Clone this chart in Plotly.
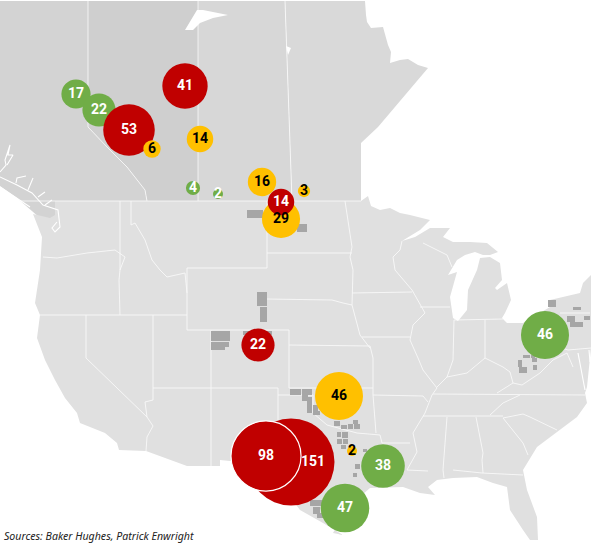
import math
import plotly.graph_objects as go

# bubbles, listed in drawing order
rig_values = [17, 22, 53, 6, 41, 14, 4, 2, 16, 29, 14, 3, 22, 46, 151, 98, 2, 38, 47, 46]
rig_status = ["green", "green", "red", "yellow", "red", "yellow", "green", "green", "yellow", "yellow",
              "red", "yellow", "red", "yellow", "red", "red", "yellow", "green", "green", "green"]
rig_x = [76, 99, 129, 152, 185, 200, 193, 218, 262, 281, 281, 304, 258, 339, 291, 266, 352, 383, 345, 545]
rig_y = [94, 110, 130, 149, 86, 139, 188, 194, 182, 219, 202, 191, 345, 396, 462, 456, 451, 466, 508, 335]
label_shift = [0, 0, 0, 0, 0, 0, 0, 0, 0, 0, 0, 0, 0, 0, 22, 0, 0, 0, 0, 0]

colors = {"green": "#70ad47", "red": "#c00000", "yellow": "#ffc000"}
text_colors = {"green": "white", "red": "white", "yellow": "black"}

# basemap outlines
bc = [(0, 1), (88, 1), (88, 127), (107, 147), (127, 167), (145, 190), (147, 201), (55, 201), (55, 220), (40, 218),
      (33, 212), (17, 198), (0, 186)]
alberta = [(88, 1), (198, 1), (198, 201), (147, 201), (145, 190), (127, 167), (107, 147), (88, 127)]
sask = [(198, 1), (285, 1), (292, 201), (198, 201)]
manitoba = [(285, 1), (365, 1), (366, 15), (367, 22), (371, 28), (383, 27), (388, 45), (391, 52), (390, 63), (400, 60),
            (408, 59), (418, 65), (428, 68), (378, 127), (361, 143), (361, 201), (292, 201)]
usa = [(55, 201), (361, 201), (368, 196), (371, 206), (380, 210), (390, 208), (400, 213), (410, 215), (430, 220),
       (420, 230), (402, 241), (415, 237), (430, 228), (450, 228), (443, 237), (453, 242), (470, 242), (487, 243),
       (498, 252), (490, 255), (483, 255), (475, 252), (465, 255), (457, 260), (448, 275), (457, 272), (450, 297),
       (453, 318), (458, 321), (467, 310), (468, 290), (477, 270), (480, 258), (490, 257), (500, 263), (502, 280),
       (495, 288), (497, 290), (507, 283), (511, 300), (505, 313), (502, 318), (507, 323), (523, 323), (550, 307),
       (550, 300), (580, 293), (583, 283), (591, 275), (591, 348), (587, 387), (585, 393), (587, 403), (577, 417),
       (557, 432), (537, 447), (523, 470), (527, 490), (537, 517), (538, 540), (530, 540), (523, 530), (510, 510),
       (507, 487), (493, 483), (477, 477), (453, 478), (437, 480), (428, 487), (435, 495), (420, 493), (403, 487),
       (370, 488), (345, 510), (333, 533), (343, 535), (323, 523), (300, 510), (270, 470), (240, 462), (220, 460),
       (220, 466), (187, 466), (146, 451), (119, 450), (117, 443), (105, 433), (80, 423), (77, 413), (65, 398),
       (55, 380), (45, 360), (37, 338), (40, 315), (35, 303), (40, 270), (42, 237), (33, 214), (50, 218), (55, 215)]
lakes = [[(185, 30), (197, 10), (203, 10), (228, 15), (213, 18), (200, 23), (193, 30)],
         [(286, 46), (291, 48), (288, 55)]]

borders = [
    [(0, 201), (361, 201)],
    [(120, 201), (120, 270), (119, 280), (120, 315)],
    [(131, 201), (131, 225), (135, 223), (145, 240), (152, 260), (160, 270), (167, 277), (185, 273), (187, 293)],
    [(43, 257), (57, 258), (87, 253), (115, 250), (125, 257), (120, 270)],
    [(40, 315), (187, 315)],
    [(86, 315), (86, 358), (147, 417), (153, 426), (147, 437), (146, 451)],
    [(153, 315), (153, 400), (145, 402), (147, 417)],
    [(153, 388), (278, 388)],
    [(187, 268), (267, 268), (267, 201)],
    [(187, 268), (187, 330), (289, 330), (289, 388)],
    [(211, 330), (211, 466)],
    [(278, 388), (278, 450)],
    [(278, 395), (313, 395), (313, 413), (327, 425), (357, 433), (380, 435), (382, 443), (410, 443)],
    [(289, 345), (370, 346), (373, 358), (373, 395), (376, 433)],
    [(289, 388), (373, 388)],
    [(267, 299), (332, 300), (343, 303), (352, 305), (360, 335), (370, 348)],
    [(267, 253), (352, 253)],
    [(345, 201), (348, 220), (352, 247), (350, 257), (353, 270), (352, 305)],
    [(352, 293), (412, 292)],
    [(402, 241), (400, 250), (393, 257), (395, 270), (412, 290), (425, 313), (413, 325), (410, 340), (418, 358),
     (423, 370), (433, 383), (437, 388), (432, 395), (425, 413), (413, 433), (417, 452), (407, 470)],
    [(423, 243), (447, 255), (452, 267)],
    [(362, 337), (410, 337)],
    [(420, 307), (450, 307)],
    [(454, 320), (453, 360), (447, 377), (437, 387)],
    [(447, 377), (467, 373), (485, 358), (503, 367), (510, 372), (513, 383), (522, 385), (540, 373), (553, 360),
     (567, 353), (573, 367)],
    [(485, 320), (485, 358)],
    [(454, 320), (503, 319)],
    [(497, 393), (513, 383)],
    [(373, 395), (423, 396), (428, 402)],
    [(433, 394), (585, 395)],
    [(423, 416), (503, 416)],
    [(490, 415), (503, 403), (520, 395)],
    [(447, 417), (443, 470), (444, 478)],
    [(476, 417), (483, 453), (482, 460), (483, 473)],
    [(407, 470), (428, 471)],
    [(453, 470), (482, 473), (523, 475)],
    [(503, 418), (523, 443), (528, 455)],
    [(503, 418), (523, 414), (530, 417), (557, 430)],
    [(568, 350), (591, 348)],
    [(553, 317), (553, 345), (568, 350)],
    [(560, 313), (590, 313)],
    [(198, 1), (198, 201)],
    [(88, 1), (88, 127), (107, 147), (127, 167), (145, 190), (147, 201)],
    [(285, 1), (292, 201)],
]

# straits and inlets on the coasts
channels = [
    [(0, 177), (17, 185), (32, 193), (43, 205), (58, 210), (60, 227), (55, 232), (52, 228), (57, 222)],
    [(0, 172), (6, 165), (5, 160), (10, 145), (8, 155), (13, 155), (7, 165)],
    [(16, 183), (17, 178), (26, 176)],
    [(28, 190), (33, 178)],
    [(38, 197), (45, 192)],
    [(45, 205), (52, 200)],
    [(0, 187), (8, 192), (18, 199), (30, 207)],
    [(578, 353), (581, 368), (585, 390)],
    [(589, 350), (590, 362)],
]

# producing counties, x0, y0, x1, y1
counties = [(247, 210, 263, 218), (297, 224, 307, 232), (257, 292, 267, 306), (260, 307, 267, 322),
            (211, 331, 230, 341), (211, 342, 229, 347), (211, 347, 225, 350), (243, 331, 272, 335),
            (290, 389, 301, 395), (302, 389, 312, 395), (302, 395, 308, 401), (307, 397, 312, 403),
            (307, 403, 312, 408), (307, 408, 312, 413), (313, 405, 318, 411), (313, 411, 320, 415),
            (334, 421, 340, 426), (341, 425, 347, 429), (348, 424, 353, 429), (353, 420, 358, 424),
            (354, 424, 360, 429), (337, 432, 341, 437), (342, 432, 348, 438), (337, 439, 342, 444),
            (343, 439, 348, 444), (341, 445, 346, 449), (355, 464, 360, 469), (353, 473, 357, 477),
            (363, 449, 367, 452), (310, 500, 322, 506), (313, 507, 320, 514), (317, 513, 323, 518),
            (548, 300, 556, 307), (573, 307, 581, 310), (567, 316, 575, 322), (584, 316, 590, 320),
            (570, 322, 583, 327), (523, 355, 530, 358), (531, 355, 535, 358), (532, 358, 537, 362),
            (533, 365, 537, 370), (518, 360, 522, 367), (519, 367, 527, 373)]


def polygon(points, color):
    return go.Scatter(x=[p[0] for p in points], y=[p[1] for p in points], mode="lines", fill="toself",
                      fillcolor=color, line=dict(width=0), hoverinfo="skip")


def join_lines(lines):
    xs, ys = [], []
    for line in lines:
        xs += [p[0] for p in line] + [None]
        ys += [p[1] for p in line] + [None]
    return xs, ys


fig = go.Figure()
fig.add_trace(polygon(bc, "#d3d3d3"))
fig.add_trace(polygon(alberta, "#cfcfcf"))
fig.add_trace(polygon(sask, "#d7d7d7"))
fig.add_trace(polygon(manitoba, "#d9d9d9"))
fig.add_trace(polygon(usa, "#e0e0e0"))
for lake in lakes:
    fig.add_trace(polygon(lake, "white"))

bx, by = join_lines(borders)
fig.add_trace(go.Scatter(x=bx, y=by, mode="lines", line=dict(color="white", width=0.9), opacity=0.8, hoverinfo="skip"))
chx, chy = join_lines(channels)
fig.add_trace(go.Scatter(x=chx, y=chy, mode="lines", line=dict(color="white", width=1.1), hoverinfo="skip"))

rects = [[(c[0], c[1]), (c[2], c[1]), (c[2], c[3]), (c[0], c[3]), (c[0], c[1])] for c in counties]
cx, cy = join_lines(rects)
fig.add_trace(go.Scatter(x=cx, y=cy, mode="lines", fill="toself", fillcolor="#a6a6a6", line=dict(width=0),
                         hoverinfo="skip"))

fig.add_trace(go.Scatter(
    x=rig_x, y=rig_y, mode="markers",
    marker=dict(size=[math.sqrt(v) * 7.08 for v in rig_values], sizemode="diameter", opacity=1,
                color=[colors[s] for s in rig_status],
                line=dict(color="white", width=[1.2 if v == 98 else 0 for v in rig_values])),
    hoverinfo="skip"))
fig.add_trace(go.Scatter(
    x=[x + d for x, d in zip(rig_x, label_shift)], y=rig_y, mode="text", text=[str(v) for v in rig_values],
    textposition="middle center",
    textfont=dict(family="Roboto", size=14, weight="bold", color=[text_colors[s] for s in rig_status]),
    hoverinfo="skip"))

fig.add_annotation(text="<i>Sources: Baker Hughes, Patrick Enwright</i>", x=2, y=536, xref="x", yref="y",
                   xanchor="left", yanchor="middle", showarrow=False,
                   font=dict(family="Noto Sans", size=10.6, color="#222222"))

fig.update_xaxes(range=[0, 591], visible=False, fixedrange=True)
fig.update_yaxes(range=[543, 0], visible=False, fixedrange=True)
fig.update_layout(width=591, height=543, margin=dict(l=0, r=0, t=0, b=0), showlegend=False,
                  paper_bgcolor="white", plot_bgcolor="white")
fig.write_html("out.html", config={"displayModeBar": False},
               post_script="document.body.style.margin='0';document.body.style.overflow='hidden';")
